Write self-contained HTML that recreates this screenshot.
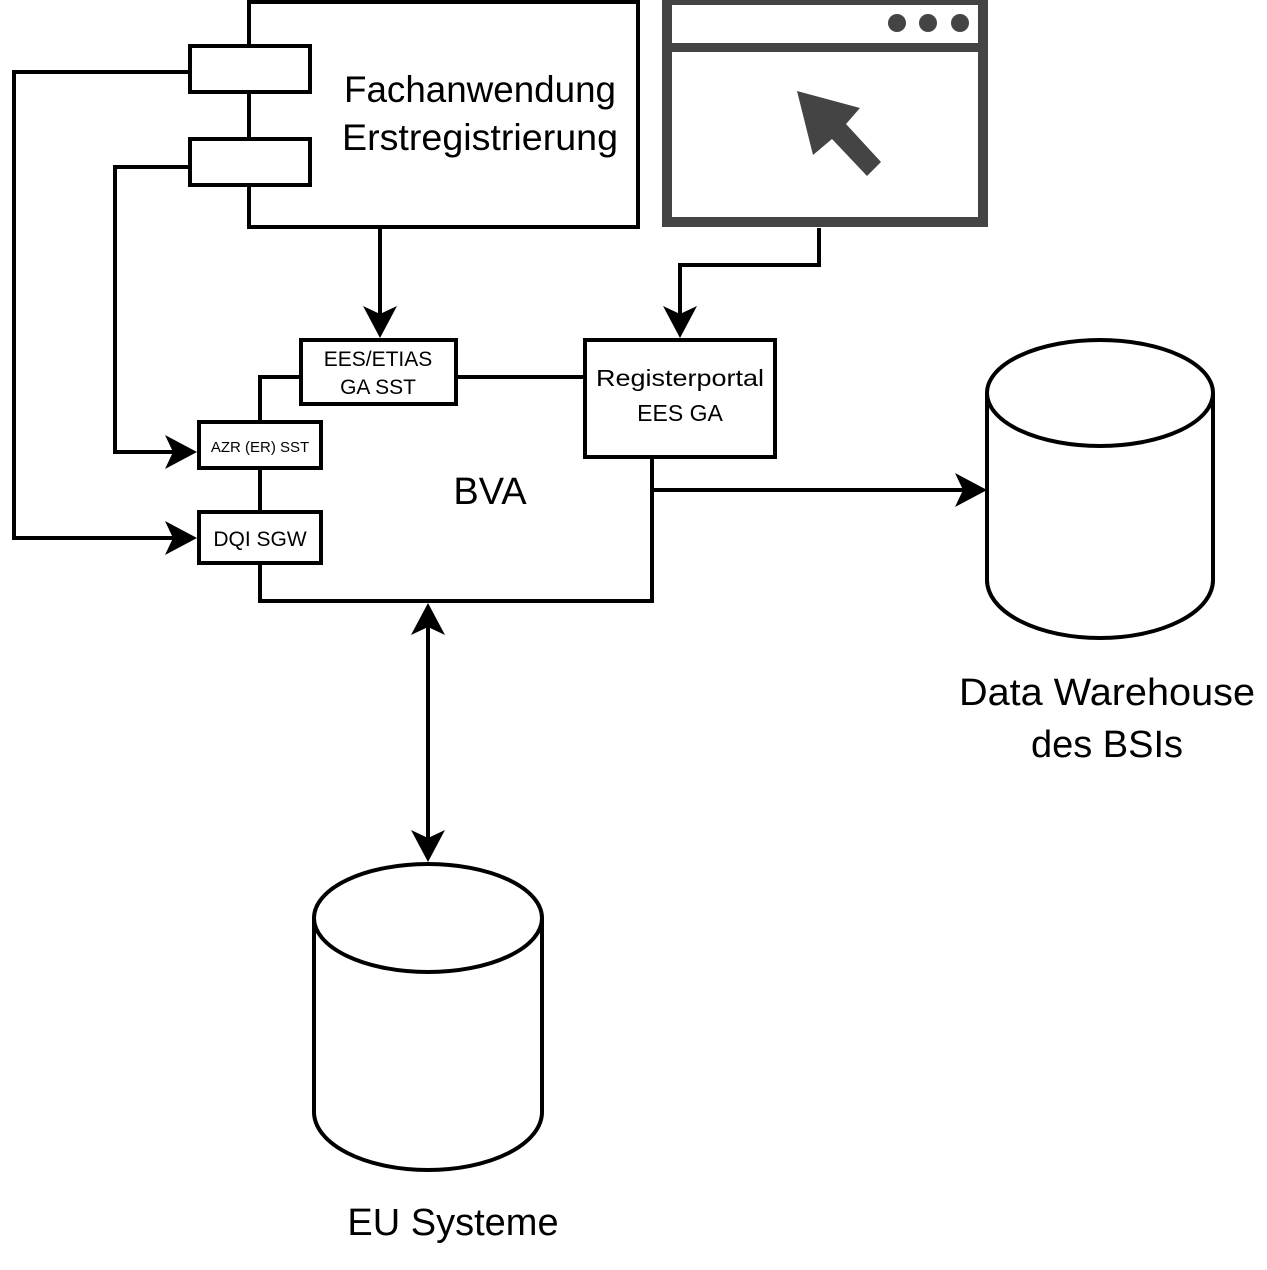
<!DOCTYPE html>
<html><head><meta charset="utf-8"><style>
html,body{margin:0;padding:0;background:#fff}
svg{display:block}
text{font-family:"Liberation Sans","DejaVu Sans",sans-serif;fill:#000}
</style></head><body>
<svg width="1267" height="1270" viewBox="0 0 1267 1270" xmlns="http://www.w3.org/2000/svg">
<g fill="none" stroke="#000" stroke-width="4">
<rect x="249" y="2" width="389" height="225" fill="#fff"/>
<rect x="190" y="46" width="120" height="46" fill="#fff"/>
<rect x="190" y="139" width="120" height="46" fill="#fff"/>
<polyline points="190,72 14,72 14,538 180,538"/>
<polyline points="190,167 115,167 115,452 180,452"/>
<line x1="380" y1="227" x2="380" y2="325"/>
<polyline points="301,377 260,377 260,601 652,601 652,457"/>
<line x1="456" y1="377" x2="585" y2="377"/>
<rect x="301" y="340" width="155" height="64" fill="#fff"/>
<rect x="585" y="340" width="190" height="117" fill="#fff"/>
<rect x="199" y="422" width="122" height="46" fill="#fff"/>
<rect x="199" y="512" width="122" height="51" fill="#fff"/>
<polyline points="819,228 819,265 680,265 680,325"/>
<line x1="652" y1="490" x2="970" y2="490"/>
<line x1="428" y1="620" x2="428" y2="845"/>
<path d="M987,393 A113,53 0 0 1 1213,393 L1213,580 A113,58 0 0 1 987,580 Z" fill="#fff"/>
<path d="M987,393 A113,53 0 0 0 1213,393"/>
<path d="M314,918 A114,54 0 0 1 542,918 L542,1112 A114,58 0 0 1 314,1112 Z" fill="#fff"/>
<path d="M314,918 A114,54 0 0 0 542,918"/>
</g>
<g fill="#000">
<!-- arrowheads: tip, back corners, notch -->
<path d="M197,538 L165,521 L173,538 L165,555 Z"/>
<path d="M197,452 L165,435 L173,452 L165,469 Z"/>
<path d="M380,338 L363,306 L380,314 L397,306 Z"/>
<path d="M680,338 L663,306 L680,314 L697,306 Z"/>
<path d="M987,490 L955,473 L963,490 L955,507 Z"/>
<path d="M428,603 L411,635 L428,627 L445,635 Z"/>
<path d="M428,862 L411,830 L428,838 L445,830 Z"/>
</g>
<rect x="667" y="0" width="316" height="222" fill="#fff" stroke="#444" stroke-width="10"/>
<rect x="667" y="43" width="316" height="9" fill="#444"/>
<circle cx="897" cy="23" r="9" fill="#444"/>
<circle cx="928" cy="23" r="9" fill="#444"/>
<circle cx="960" cy="23" r="9" fill="#444"/>
<polygon points="797,91 860,108 846,124 881,162 867,176 832,139 813,155" fill="#444"/>
<text x="480" y="102" font-size="37" text-anchor="middle" textLength="272" lengthAdjust="spacingAndGlyphs">Fachanwendung</text>
<text x="480" y="150" font-size="37" text-anchor="middle" textLength="276" lengthAdjust="spacingAndGlyphs">Erstregistrierung</text>
<text x="378" y="366" font-size="21" text-anchor="middle">EES/ETIAS</text>
<text x="378" y="394" font-size="21" text-anchor="middle">GA SST</text>
<text x="680" y="386" font-size="23" text-anchor="middle" textLength="168" lengthAdjust="spacingAndGlyphs">Registerportal</text>
<text x="680" y="421" font-size="23" text-anchor="middle">EES GA</text>
<text x="260" y="452" font-size="15" text-anchor="middle">AZR (ER) SST</text>
<text x="260" y="546" font-size="21" text-anchor="middle">DQI SGW</text>
<text x="490" y="504" font-size="38" text-anchor="middle">BVA</text>
<text x="1107" y="705" font-size="38" text-anchor="middle" textLength="296" lengthAdjust="spacingAndGlyphs">Data Warehouse</text>
<text x="1107" y="757" font-size="38" text-anchor="middle">des BSIs</text>
<text x="453" y="1235" font-size="38" text-anchor="middle">EU Systeme</text>
</svg>
</body></html>
